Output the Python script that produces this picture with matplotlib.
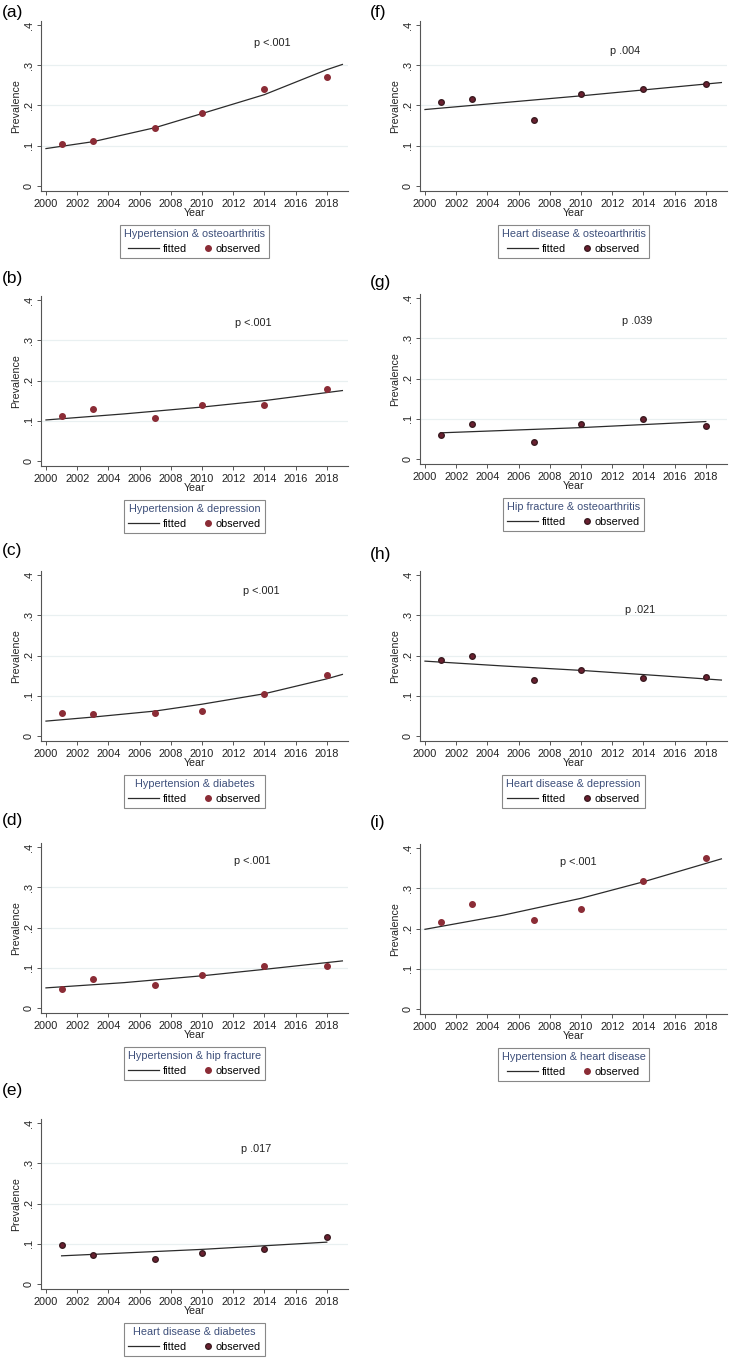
import matplotlib
matplotlib.use("Agg")
import matplotlib.pyplot as plt
from matplotlib.lines import Line2D
from matplotlib.legend_handler import HandlerBase

plt.rcParams['font.family'] = ['Liberation Sans', 'DejaVu Sans']

# observed survey years
years = [2001, 2003, 2007, 2010, 2014, 2018]

# observed prevalence per panel
obs_a = [0.104, 0.112, 0.145, 0.182, 0.241, 0.271]
obs_b = [0.112, 0.129, 0.106, 0.140, 0.139, 0.179]
obs_c = [0.056, 0.054, 0.057, 0.063, 0.105, 0.151]
obs_d = [0.048, 0.072, 0.056, 0.081, 0.104, 0.104]
obs_e = [0.096, 0.073, 0.063, 0.076, 0.087, 0.118]
obs_f = [0.208, 0.215, 0.164, 0.229, 0.242, 0.254]
obs_g = [0.059, 0.087, 0.043, 0.087, 0.100, 0.082]
obs_h = [0.188, 0.198, 0.140, 0.164, 0.143, 0.147]
obs_i = [0.215, 0.262, 0.220, 0.249, 0.319, 0.374]

# fitted curves
fit_years_a = [2000, 2003, 2007, 2010, 2014, 2018, 2019]
fit_a = [0.093, 0.110, 0.145, 0.180, 0.227, 0.289, 0.302]
fit_years_b = [2000, 2005, 2010, 2014, 2019]
fit_b = [0.102, 0.117, 0.134, 0.150, 0.175]
fit_years_c = [2000, 2003, 2007, 2010, 2014, 2018, 2019]
fit_c = [0.037, 0.047, 0.062, 0.079, 0.105, 0.142, 0.153]
fit_years_d = [2000, 2005, 2010, 2014, 2019]
fit_d = [0.050, 0.063, 0.080, 0.096, 0.117]
fit_years_e = [2001, 2010, 2018]
fit_e = [0.070, 0.086, 0.104]
fit_years_f = [2000, 2010, 2019]
fit_f = [0.190, 0.224, 0.257]
fit_years_g = [2001, 2010, 2018]
fit_g = [0.065, 0.078, 0.093]
fit_years_h = [2000, 2005, 2010, 2015, 2019]
fit_h = [0.186, 0.174, 0.163, 0.150, 0.139]
fit_years_i = [2000, 2005, 2010, 2014, 2019]
fit_i = [0.198, 0.233, 0.275, 0.316, 0.373]

titles = ['Hypertension & osteoarthritis', 'Hypertension & depression',
          'Hypertension & diabetes', 'Hypertension & hip fracture',
          'Heart disease & diabetes', 'Heart disease & osteoarthritis',
          'Hip fracture & osteoarthritis', 'Heart disease & depression',
          'Hypertension & heart disease']
pvalues = ['p <.001', 'p <.001', 'p <.001', 'p <.001', 'p .017',
           'p .004', 'p .039', 'p .021', 'p <.001']
p_pos = [(2014.5, 0.355), (2013.3, 0.342), (2013.8, 0.360), (2013.2, 0.364),
         (2013.5, 0.335), (2012.8, 0.336), (2013.6, 0.342), (2013.8, 0.312),
         (2009.8, 0.364)]
letters = ['(a)', '(b)', '(c)', '(d)', '(e)', '(f)', '(g)', '(h)', '(i)']

observed = [obs_a, obs_b, obs_c, obs_d, obs_e, obs_f, obs_g, obs_h, obs_i]
fit_years = [fit_years_a, fit_years_b, fit_years_c, fit_years_d, fit_years_e,
             fit_years_f, fit_years_g, fit_years_h, fit_years_i]
fitted = [fit_a, fit_b, fit_c, fit_d, fit_e, fit_f, fit_g, fit_h, fit_i]

# layout in pixels: (axes left, pixel row of the .4 tick, letter y)
W, H = 737, 1362
layout = [(41, 25, 12), (41, 300, 278), (41, 575, 550), (41, 847, 820),
          (41, 1123, 1090), (420, 25, 12), (420, 298, 282), (420, 575, 555),
          (420, 848, 822)]
dot_colors = ['#8b2c36', '#8b2c36', '#8b2c36', '#8b2c36', '#6a2030',
              '#6a2030', '#6a2030', '#6a2030', '#8b2c36']


class DotHandler(HandlerBase):
    """Marker placed at the right end of the legend key, as in Stata."""
    def create_artists(self, legend, orig_handle, xdescent, ydescent,
                       width, height, fontsize, trans):
        m = Line2D([width - xdescent - 3.5], [height / 2 - ydescent],
                   marker='o', linestyle='none',
                   markersize=orig_handle.get_markersize(),
                   markerfacecolor=orig_handle.get_markerfacecolor(),
                   markeredgecolor=orig_handle.get_markeredgecolor())
        m.set_transform(trans)
        return [m]


fig = plt.figure(figsize=(W / 100, H / 100), dpi=100)

px_per_unit = 402.5  # pixels per 1.0 prevalence
ax_w = 307
ax_h = 0.422 * px_per_unit

for k in range(9):
    left, y4, ly = layout[k]
    top = y4 - 0.01 * px_per_unit
    ax = fig.add_axes([left / W, 1 - (top + ax_h) / H, ax_w / W, ax_h / H])

    for g in [0.1, 0.2, 0.3]:
        ax.axhline(g, color='#e9f0f1', lw=0.9, zorder=0)

    fl, = ax.plot(fit_years[k], fitted[k], color='#2b2b2b', lw=0.9,
                  label='fitted', zorder=2)
    dl, = ax.plot(years, observed[k], 'o', color=dot_colors[k],
                  markersize=4.0, markeredgecolor=dot_colors[k],
                  label='observed', zorder=3)
    if k >= 4 and k <= 7:
        dl.set_markeredgecolor('#3a1a20')

    ax.text(p_pos[k][0], p_pos[k][1], pvalues[k], ha='center', va='center',
            fontsize=7.8, color='#222222')

    ax.set_xlim(1999.68, 2019.36)
    ax.set_ylim(-0.012, 0.41)
    ax.set_xticks(range(2000, 2019, 2))
    ax.set_yticks([0, 0.1, 0.2, 0.3, 0.4])
    ax.set_yticklabels(['0', '.1', '.2', '.3', '.4'], rotation=90, va='center')
    ax.tick_params(labelsize=7.9, length=3, width=0.7, color='#555555',
                   labelcolor='#222222', pad=3)
    ax.tick_params(axis='y', pad=2)
    for s in ['top', 'right']:
        ax.spines[s].set_visible(False)
    for s in ['left', 'bottom']:
        ax.spines[s].set_color('#555555')
        ax.spines[s].set_linewidth(0.8)
    ax.set_xlabel('Year', fontsize=7.7, labelpad=-0.5, color='#222222')
    ax.set_ylabel('Prevalence', fontsize=7.7, labelpad=2, color='#222222')

    leg = ax.legend(handles=[fl, dl], ncol=2, title=titles[k],
                    loc='upper center', bbox_to_anchor=(0.5, -0.2),
                    fontsize=7.8, title_fontsize=7.8, frameon=True,
                    fancybox=False, edgecolor='#888888', framealpha=1,
                    handlelength=2.9, handletextpad=0.3,
                    columnspacing=-0.5, borderpad=0.35, borderaxespad=0,
                    handler_map={dl: DotHandler()})
    leg.get_frame().set_linewidth(0.8)
    leg.get_title().set_color('#3d4f7a')

    fig.text(2 / W if left < 100 else 370 / W, 1 - ly / H, letters[k],
             fontsize=12.5, ha='left', va='center')

fig.savefig('out.png', dpi=100, facecolor='white')
